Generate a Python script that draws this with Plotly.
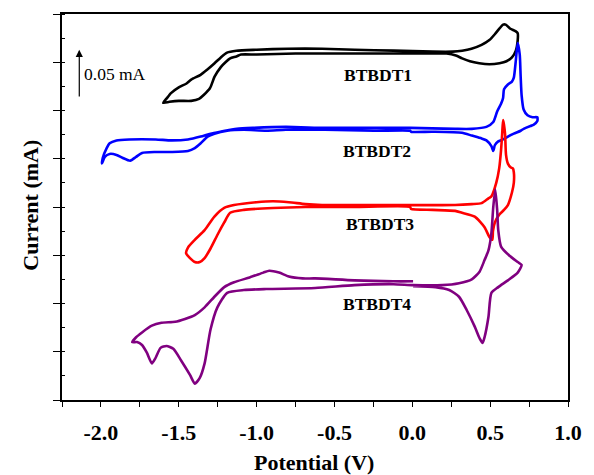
import plotly.graph_objects as go

# Cyclic voltammograms (potential in V, current in mA, curves offset vertically)
btbdt1_v = [-1.60, -1.58, -1.55, -1.50, -1.45, -1.42, -1.36, -1.32, -1.27, -1.23, -1.19, -1.13, -1.00, -0.80,
            -0.58, -0.37, -0.12, 0.13, 0.26, 0.32, 0.38, 0.445, 0.495, 0.53, 0.56, 0.583, 0.60, 0.627, 0.665,
            0.677, 0.677, 0.665, 0.64, 0.605, 0.56, 0.495, 0.43, 0.37, 0.32, 0.28, 0.22, 0.0, -0.25, -0.5,
            -0.75, -1.0, -1.10, -1.13, -1.17, -1.20, -1.23, -1.27, -1.30, -1.34, -1.37, -1.42, -1.50, -1.56, -1.60]
btbdt1_i = [0.308, 0.312, 0.318, 0.324, 0.328, 0.332, 0.337, 0.342, 0.349, 0.355, 0.360, 0.362, 0.363, 0.364,
            0.364, 0.363, 0.362, 0.361, 0.361, 0.362, 0.364, 0.368, 0.373, 0.379, 0.385, 0.389, 0.389, 0.385,
            0.382, 0.380, 0.373, 0.362, 0.355, 0.351, 0.349, 0.348, 0.349, 0.351, 0.354, 0.357, 0.359, 0.359,
            0.359, 0.359, 0.359, 0.358, 0.358, 0.356, 0.354, 0.350, 0.345, 0.335, 0.323, 0.316, 0.312, 0.310,
            0.310, 0.309, 0.308]

btbdt2_v = [-1.994, -1.988, -1.963, -1.944, -1.900, -1.818, -1.648, -1.548, -1.441, -1.359, -1.296, -1.233,
            -1.127, -1.020, -0.812, -0.561, -0.246, -0.014, 0.275, 0.382, 0.476, 0.520, 0.545, 0.570, 0.583,
            0.589, 0.614, 0.640, 0.652, 0.665, 0.677, 0.690, 0.696, 0.702, 0.715, 0.740, 0.772, 0.803, 0.803,
            0.778, 0.759, 0.715, 0.696, 0.652, 0.614, 0.583, 0.552, 0.530, 0.520, 0.508, 0.476, 0.445, 0.382,
            0.319, 0.130, -0.008, -0.014, -0.246, -0.561, -0.812, -0.938, -1.083, -1.189, -1.271, -1.315,
            -1.359, -1.397, -1.441, -1.548, -1.648, -1.736, -1.774, -1.812, -1.862, -1.900, -1.944, -1.975,
            -1.994]
btbdt2_i = [0.245, 0.251, 0.261, 0.266, 0.269, 0.270, 0.270, 0.269, 0.270, 0.273, 0.276, 0.278, 0.281, 0.282,
            0.283, 0.282, 0.282, 0.282, 0.281, 0.281, 0.283, 0.288, 0.299, 0.307, 0.313, 0.322, 0.327, 0.330,
            0.334, 0.352, 0.370, 0.358, 0.335, 0.316, 0.301, 0.295, 0.293, 0.293, 0.289, 0.285, 0.284, 0.281,
            0.279, 0.276, 0.273, 0.270, 0.268, 0.264, 0.258, 0.263, 0.269, 0.271, 0.274, 0.277, 0.278, 0.278,
            0.279, 0.279, 0.280, 0.280, 0.279, 0.280, 0.279, 0.276, 0.273, 0.266, 0.261, 0.258, 0.257, 0.257,
            0.256, 0.252, 0.248, 0.251, 0.254, 0.255, 0.252, 0.245]

btbdt3_v = [-1.453, -1.441, -1.397, -1.334, -1.271, -1.208, -1.145, -1.001, -0.894, -0.793, -0.687, -0.580,
            -0.372, -0.014, 0.275, 0.382, 0.445, 0.489, 0.508, 0.539, 0.558, 0.570, 0.577, 0.583, 0.589, 0.596,
            0.602, 0.614, 0.633, 0.646, 0.652, 0.652, 0.640, 0.614, 0.589, 0.558, 0.530, 0.518, 0.514, 0.495,
            0.464, 0.401, 0.319, 0.275, 0.130, -0.008, -0.014, -0.372, -0.687, -0.894, -1.082, -1.170, -1.208,
            -1.252, -1.296, -1.334, -1.365, -1.397, -1.428, -1.453]
btbdt3_i = [0.152, 0.158, 0.166, 0.176, 0.190, 0.199, 0.202, 0.205, 0.206, 0.205, 0.203, 0.202, 0.202, 0.202,
            0.202, 0.203, 0.204, 0.209, 0.211, 0.225, 0.240, 0.259, 0.275, 0.290, 0.285, 0.275, 0.254, 0.245,
            0.241, 0.240, 0.236, 0.225, 0.215, 0.202, 0.197, 0.192, 0.184, 0.175, 0.166, 0.169, 0.179, 0.190,
            0.194, 0.196, 0.197, 0.198, 0.200, 0.200, 0.200, 0.199, 0.197, 0.194, 0.184, 0.171, 0.157, 0.147,
            0.143, 0.143, 0.147, 0.152]

btbdt4_v = [0.005, -0.121, -0.372, -0.624, -0.705, -0.793, -0.856, -0.919, -0.957, -1.045, -1.145, -1.208,
            -1.271, -1.334, -1.397, -1.460, -1.523, -1.611, -1.673, -1.736, -1.774, -1.799, -1.768, -1.736,
            -1.705, -1.673, -1.648, -1.617, -1.579, -1.535, -1.485, -1.428, -1.397, -1.365, -1.334, -1.296,
            -1.252, -1.189, -1.082, -0.938, -0.624, -0.372, -0.121, 0.005, 0.193, 0.300, 0.382, 0.432, 0.464,
            0.489, 0.508, 0.520, 0.533, 0.545, 0.552, 0.570, 0.621, 0.677, 0.702, 0.677, 0.614, 0.552, 0.508,
            0.489, 0.464, 0.451, 0.432, 0.401, 0.350, 0.300, 0.237, 0.149, 0.005]
btbdt4_i = [0.123, 0.123, 0.124, 0.126, 0.126, 0.128, 0.132, 0.134, 0.132, 0.127, 0.122, 0.117, 0.107, 0.096,
            0.088, 0.084, 0.081, 0.080, 0.077, 0.070, 0.065, 0.060, 0.060, 0.057, 0.049, 0.038, 0.044, 0.054,
            0.056, 0.053, 0.041, 0.026, 0.017, 0.023, 0.038, 0.073, 0.096, 0.111, 0.114, 0.115, 0.116, 0.119,
            0.120, 0.119, 0.119, 0.121, 0.125, 0.133, 0.145, 0.155, 0.173, 0.200, 0.218, 0.197, 0.176, 0.159,
            0.150, 0.143, 0.140, 0.132, 0.124, 0.117, 0.111, 0.086, 0.065, 0.059, 0.064, 0.076, 0.093, 0.107,
            0.114, 0.117, 0.118]

names = ["BTBDT1", "BTBDT2", "BTBDT3", "BTBDT4"]
colors = ["#000000", "#0000FF", "#FF0000", "#800080"]
# label anchor points (V, mA)
label_v = [-0.22, -0.23, -0.21, -0.23]
label_i = [0.337, 0.258, 0.182, 0.100]

x_tick_vals = [-2.0, -1.5, -1.0, -0.5, 0.0, 0.5, 1.0]
x_tick_text = ["-2.0", "-1.5", "-1.0", "-0.5", "0.0", "0.5", "1.0"]

scale_bar_ma = 0.05
scale_bar_v = -2.139
scale_bar_base = 0.313

SERIF = "Liberation Serif, Times New Roman, serif"

fig = go.Figure()
for v, i, c in zip([btbdt1_v, btbdt2_v, btbdt3_v, btbdt4_v],
                   [btbdt1_i, btbdt2_i, btbdt3_i, btbdt4_i], colors):
    fig.add_trace(go.Scatter(x=v, y=i, mode="lines", showlegend=False, hoverinfo="skip",
                             line=dict(color=c, width=2.6, shape="spline", smoothing=0.6)))

annotations = []
for n, lv, li in zip(names, label_v, label_i):
    annotations.append(dict(x=lv, y=li, xref="x", yref="y", text=n, showarrow=False,
                            font=dict(family=SERIF, size=17.5, color="black", weight="bold")))

# 0.05 mA scale arrow
annotations.append(dict(x=scale_bar_v, y=scale_bar_base + scale_bar_ma, ax=scale_bar_v, ay=scale_bar_base,
                        xref="x", yref="y", axref="x", ayref="y", text="", showarrow=True,
                        arrowhead=2, arrowsize=1.2, arrowwidth=1.2, arrowcolor="black"))
annotations.append(dict(x=scale_bar_v + 0.02, y=scale_bar_base + 0.025, xref="x", yref="y",
                        text="0.05 mA", showarrow=False, xanchor="left",
                        font=dict(family=SERIF, size=17.5, color="black")))

# axis titles
annotations.append(dict(x=0.499, y=-0.161, xref="paper", yref="paper", text="Potential (V)",
                        xanchor="center", yanchor="middle",
                        showarrow=False, font=dict(family=SERIF, size=22, color="black", weight="bold")))
annotations.append(dict(x=-0.064, y=0.505, xref="paper", yref="paper", text="Current (mA)", textangle=-90,
                        xanchor="center", yanchor="middle",
                        showarrow=False, font=dict(family=SERIF, size=22, color="black", weight="bold")))

fig.update_layout(
    width=594, height=475,
    margin=dict(l=62, r=15, t=14, b=75),
    paper_bgcolor="white", plot_bgcolor="white",
    annotations=annotations,
    xaxis=dict(range=[-2.25, 1.0], tickmode="array", tickvals=x_tick_vals, ticktext=x_tick_text,
               ticks="outside", ticklen=5, tickwidth=1.3, tickcolor="black", ticklabelstandoff=7,
               minor=dict(dtick=0.25, tick0=0, ticks="outside", ticklen=5, tickwidth=1.3, tickcolor="black"),
               showline=True, linewidth=1.5, linecolor="black", mirror=True,
               showgrid=False, zeroline=False,
               tickfont=dict(family=SERIF, size=22, color="black", weight="bold")),
    yaxis=dict(range=[0, 0.4], tick0=0, dtick=0.05, ticks="outside", ticklen=7, tickwidth=1.3,
               tickcolor="black", showticklabels=False,
               minor=dict(dtick=0.025, ticks="inside", ticklen=3, tickwidth=1, tickcolor="black"),
               showline=True, linewidth=1.5, linecolor="black", mirror=True,
               showgrid=False, zeroline=False),
    xaxis2=dict(overlaying="x", anchor="y", side="top", range=[0, 9.87], tick0=0, dtick=1,
                ticks="inside", ticklen=4, tickwidth=1, tickcolor="black", showticklabels=False,
                showline=False, showgrid=False, zeroline=False),
    yaxis2=dict(overlaying="y", anchor="x", side="right", range=[0, 10], tick0=0, dtick=1,
                ticks="inside", ticklen=4, tickwidth=1, tickcolor="black", showticklabels=False,
                showline=False, showgrid=False, zeroline=False),
)

fig.write_html("out.html")
